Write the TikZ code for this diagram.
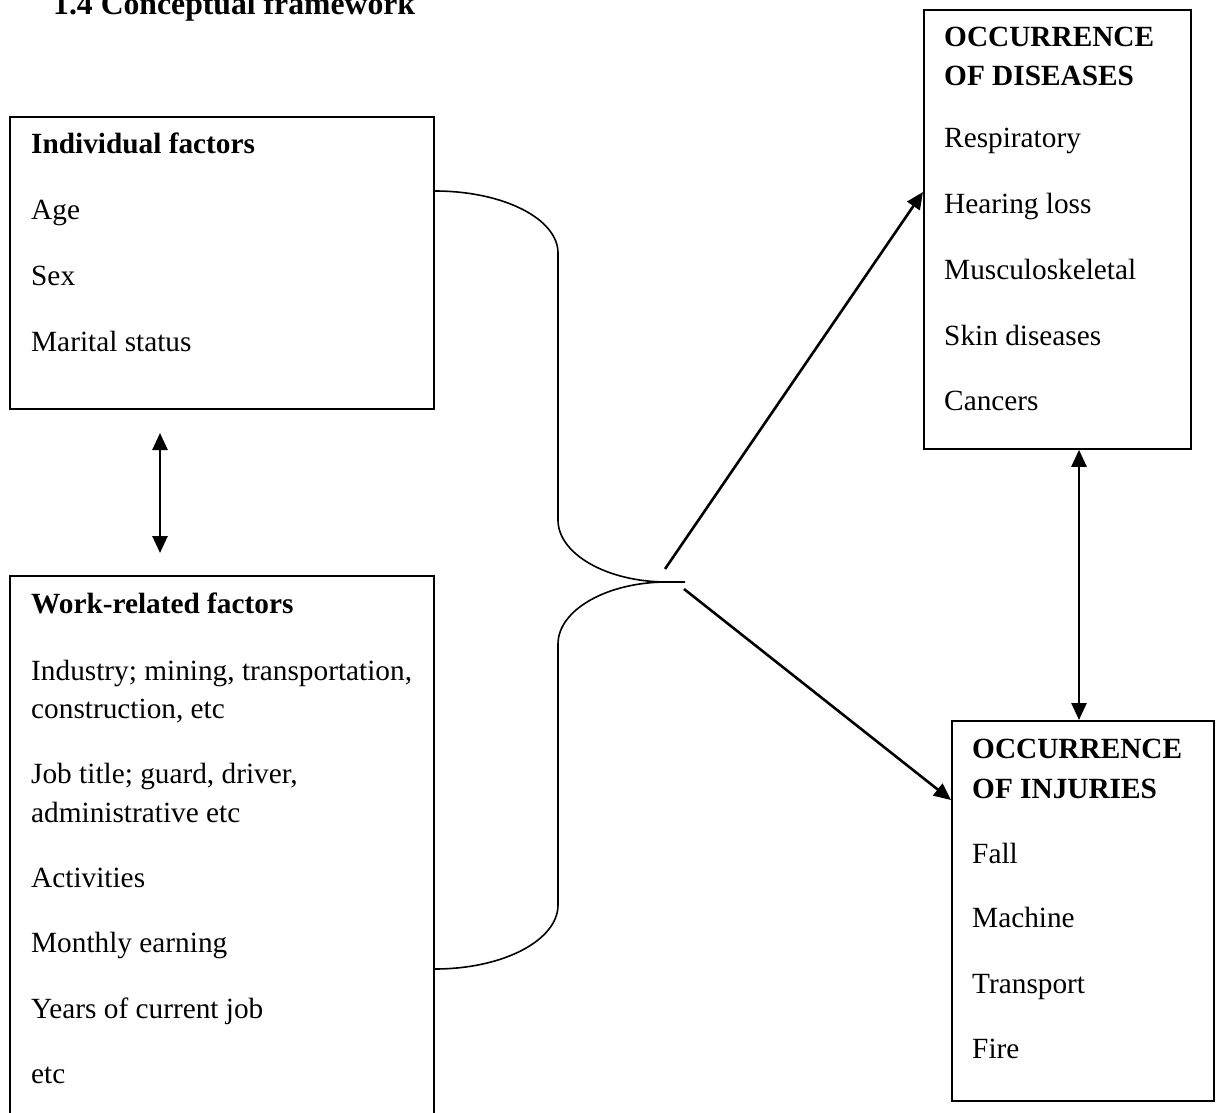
\documentclass[tikz,border=0pt]{standalone}
\usepackage{fontspec}
\setmainfont{Liberation Serif}
\usetikzlibrary{arrows.meta,calc}
\newcommand\bodysz{\fontsize{29.3}{38}\selectfont}
\newcommand\titlesz{\fontsize{31.7}{38}\selectfont}
\begin{document}
\begin{tikzpicture}[x=1pt,y=-1pt,
  box/.style={draw,line width=1.8pt,anchor=north west,inner sep=0pt},
  txt/.style={anchor=base west,inner sep=0pt,font=\bodysz},
  hd/.style={anchor=base west,inner sep=0pt,font=\bodysz\bfseries},
  conn/.style={line width=2.6pt,-{Triangle[length=17pt,width=15pt]}},
  dbl/.style={line width=2.6pt,{Triangle[length=17pt,width=15pt]}-{Triangle[length=17pt,width=15pt]}},
  brace/.style={line width=1.6pt}]
\clip (0,0) rectangle (1216,1113);
\fill[white] (0,0) rectangle (1216,1113);

% title
\node[anchor=base west,inner sep=0pt,font=\titlesz\bfseries] (title) at (53,15) {1.4 Conceptual framework};

% boxes
\node[box,minimum width=424pt,minimum height=292pt] (ind) at (9,116) {};
\node[box,minimum width=424pt,minimum height=560pt] (work) at (9,575) {};
\node[box,minimum width=267pt,minimum height=439pt] (dis) at (923,9) {};
\node[box,minimum width=262pt,minimum height=380pt] (inj) at (951,720) {};

% individual factors
\node[hd]  (i0) at (31,154) {Individual factors};
\node[txt] (i1) at (31,219) {Age};
\node[txt] (i2) at (31,285) {Sex};
\node[txt] (i3) at (31,351) {Marital status};

% work-related
\node[hd]  (w0) at (31,613) {Work-related factors};
\node[txt] (w1) at (31,680) {Industry; mining, transportation,};
\node[txt] (w2) at (31,718) {construction, etc};
\node[txt] (w3) at (31,783) {Job title; guard, driver,};
\node[txt] (w4) at (31,822) {administrative etc};
\node[txt] (w5) at (31,887) {Activities};
\node[txt] (w6) at (31,952) {Monthly earning};
\node[txt] (w7) at (31,1018) {Years of current job};
\node[txt] (w8) at (31,1083) {etc};

% diseases
\node[hd]  (d0) at (944,47) {OCCURRENCE};
\node[hd]  (d1) at (944,86) {OF DISEASES};
\node[txt] (d2) at (944,148) {Respiratory};
\node[txt] (d3) at (944,213) {Hearing loss};
\node[txt] (d4) at (944,279) {Musculoskeletal};
\node[txt] (d5) at (944,345) {Skin diseases};
\node[txt] (d6) at (944,410) {Cancers};

% injuries
\node[hd]  (j0) at (972,758) {OCCURRENCE};
\node[hd]  (j1) at (972,798) {OF INJURIES};
\node[txt] (j2) at (972,863) {Fall};
\node[txt] (j3) at (972,927) {Machine};
\node[txt] (j4) at (972,993) {Transport};
\node[txt] (j5) at (972,1058) {Fire};

% brace
\coordinate (tip) at (667,582);
\coordinate (tipend) at (685,582);
\coordinate (bt) at ($(ind.north east)+(0,75)$);
\coordinate (bb) at ($(work.north east)+(0,394)$);
\draw[brace] (bt) .. controls ($(bt)+(69,0)$) and (558,219) .. (558,253)
  -- (558,520) .. controls (558,554) and (607,582) .. (tip) -- (tipend);
\draw[brace] (tip) .. controls (607,582) and (558,610) .. (558,644)
  -- (558,905) .. controls (558,940) and ($(bb)+(69,0)$) .. (bb);

% arrows
\coordinate (s1) at (665,569);
\coordinate (s2) at (684,589);
\draw[conn] (s1) -- ($(dis.north west)+(0,183)$);
\draw[conn] (s2) -- ($(inj.north west)+(0,80)$);

\coordinate (l1) at (160,433);
\coordinate (l2) at (160,553);
\draw[dbl] (l1) -- (l2);
\draw[dbl] ($(dis.south west)+(156,0)$) -- ($(inj.north west)+(128,0)$);
\end{tikzpicture}
\end{document}
